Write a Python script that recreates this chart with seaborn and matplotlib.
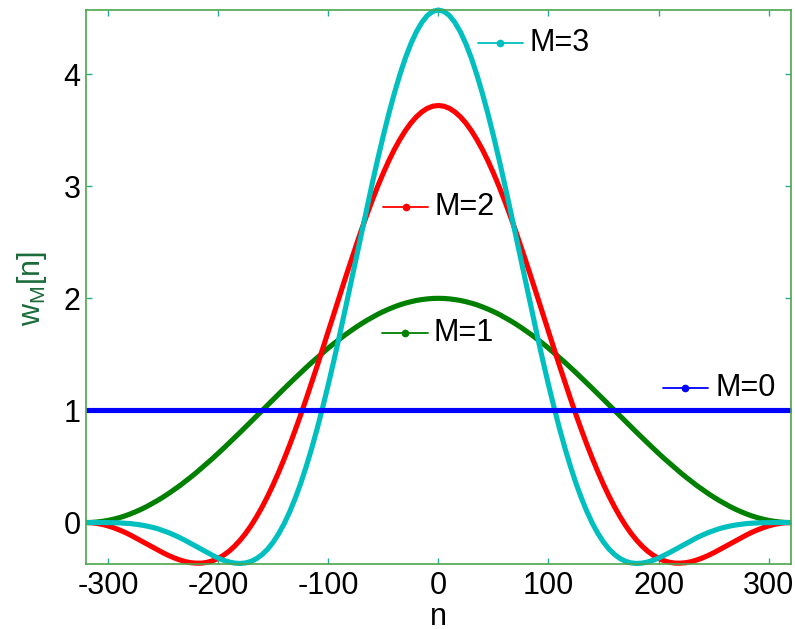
import matplotlib
matplotlib.use("Agg")
import matplotlib.pyplot as plt
import pandas as pd
import seaborn as sns

# Sample index of the window
n = list(range(-320, 321, 5))

# Window values w_M[n] for M = 0..3
w_m0 = [1.0] * len(n)
w_m1 = [0.000, 0.001, 0.005, 0.011, 0.019, 0.030, 0.043, 0.058, 0.076, 0.096,
        0.118, 0.142, 0.169, 0.197, 0.227, 0.259, 0.293, 0.328, 0.366, 0.404,
        0.444, 0.486, 0.529, 0.572, 0.617, 0.663, 0.710, 0.757, 0.805, 0.853,
        0.902, 0.951, 1.000, 1.049, 1.098, 1.147, 1.195, 1.243, 1.290, 1.337,
        1.383, 1.428, 1.471, 1.514, 1.556, 1.596, 1.634, 1.672, 1.707, 1.741,
        1.773, 1.803, 1.831, 1.858, 1.882, 1.904, 1.924, 1.942, 1.957, 1.970,
        1.981, 1.989, 1.995, 1.999, 2.000, 1.999, 1.995, 1.989, 1.981, 1.970,
        1.957, 1.942, 1.924, 1.904, 1.882, 1.858, 1.831, 1.803, 1.773, 1.741,
        1.707, 1.672, 1.634, 1.596, 1.556, 1.514, 1.471, 1.428, 1.383, 1.337,
        1.290, 1.243, 1.195, 1.147, 1.098, 1.049, 1.000, 0.951, 0.902, 0.853,
        0.805, 0.757, 0.710, 0.663, 0.617, 0.572, 0.529, 0.486, 0.444, 0.404,
        0.366, 0.328, 0.293, 0.259, 0.227, 0.197, 0.169, 0.142, 0.118, 0.096,
        0.076, 0.058, 0.043, 0.030, 0.019, 0.011, 0.005, 0.001, 0.000]
w_m2 = [0.000, -0.002, -0.008, -0.017, -0.030, -0.046, -0.065, -0.086, -0.110, -0.136,
        -0.163, -0.190, -0.217, -0.244, -0.270, -0.294, -0.315, -0.333, -0.348, -0.358,
        -0.362, -0.362, -0.355, -0.341, -0.320, -0.291, -0.255, -0.210, -0.157, -0.096,
        -0.026, 0.053, 0.140, 0.235, 0.339, 0.450, 0.568, 0.693, 0.825, 0.962,
        1.104, 1.250, 1.399, 1.551, 1.704, 1.858, 2.012, 2.165, 2.315, 2.462,
        2.606, 2.744, 2.876, 3.001, 3.118, 3.227, 3.327, 3.416, 3.495, 3.563,
        3.619, 3.663, 3.695, 3.714, 3.720, 3.714, 3.695, 3.663, 3.619, 3.563,
        3.495, 3.416, 3.327, 3.227, 3.118, 3.001, 2.876, 2.744, 2.606, 2.462,
        2.315, 2.165, 2.012, 1.858, 1.704, 1.551, 1.399, 1.250, 1.104, 0.962,
        0.825, 0.693, 0.568, 0.450, 0.339, 0.235, 0.140, 0.053, -0.026, -0.096,
        -0.157, -0.210, -0.255, -0.291, -0.320, -0.341, -0.355, -0.362, -0.362, -0.358,
        -0.348, -0.333, -0.315, -0.294, -0.270, -0.244, -0.217, -0.190, -0.163, -0.136,
        -0.110, -0.086, -0.065, -0.046, -0.030, -0.017, -0.008, -0.002, 0.000]
w_m3 = [0.000, 0.000, 0.000, 0.000, -0.001, -0.001, -0.003, -0.006, -0.009, -0.015,
        -0.022, -0.031, -0.042, -0.055, -0.072, -0.090, -0.111, -0.134, -0.159, -0.186,
        -0.213, -0.241, -0.268, -0.293, -0.317, -0.337, -0.352, -0.362, -0.365, -0.360,
        -0.346, -0.321, -0.285, -0.237, -0.175, -0.099, -0.009, 0.096, 0.216, 0.350,
        0.500, 0.663, 0.840, 1.030, 1.230, 1.440, 1.659, 1.883, 2.112, 2.343,
        2.574, 2.803, 3.027, 3.244, 3.451, 3.647, 3.828, 3.994, 4.142, 4.270,
        4.377, 4.461, 4.523, 4.560, 4.572, 4.560, 4.523, 4.461, 4.377, 4.270,
        4.142, 3.994, 3.828, 3.647, 3.451, 3.244, 3.027, 2.803, 2.574, 2.343,
        2.112, 1.883, 1.659, 1.440, 1.230, 1.030, 0.840, 0.663, 0.500, 0.350,
        0.216, 0.096, -0.009, -0.099, -0.175, -0.237, -0.285, -0.321, -0.346, -0.360,
        -0.365, -0.362, -0.352, -0.337, -0.317, -0.293, -0.268, -0.241, -0.213, -0.186,
        -0.159, -0.134, -0.111, -0.090, -0.072, -0.055, -0.042, -0.031, -0.022, -0.015,
        -0.009, -0.006, -0.003, -0.001, -0.001, 0.000, 0.000, 0.000, 0.000]

orders = [0, 1, 2, 3]
labels = ["M=0", "M=1", "M=2", "M=3"]
colors = {0: "#0000ff", 1: "#008000", 2: "#ff0000", 3: "#00bfbf"}
x_ticks = [-300, -200, -100, 0, 100, 200, 300]
y_ticks = [0, 1, 2, 3, 4]

df = pd.DataFrame({
    "n": n * 4,
    "w": w_m0 + w_m1 + w_m2 + w_m3,
    "M": [0] * len(n) + [1] * len(n) + [2] * len(n) + [3] * len(n),
})

sns.set_theme(style="white")
plt.rcParams["font.family"] = ["Liberation Sans", "DejaVu Sans"]
plt.rcParams["axes.unicode_minus"] = False
plt.rcParams["mathtext.default"] = "regular"

fig = plt.figure(figsize=(7.95, 6.29), dpi=100)
ax = fig.add_axes([0.1082, 0.1033, 0.8864, 0.8808])

sns.lineplot(data=df, x="n", y="w", hue="M", hue_order=[1, 2, 3, 0],
             palette=colors, legend=False, linewidth=3.7, ax=ax,
             clip_on=False, solid_capstyle="butt", solid_joinstyle="round")

ax.set_xlim(-320, 320)
ax.set_ylim(-0.37, 4.572)
ax.set_xticks(x_ticks)
ax.set_yticks(y_ticks)
ax.set_xticklabels([str(v) for v in x_ticks])
ax.set_yticklabels([str(v) for v in y_ticks])

spine_color = "#4ca64c"
for s in ax.spines.values():
    s.set_visible(True)
    s.set_color(spine_color)
    s.set_linewidth(1.2)

ax.tick_params(axis="both", which="major", direction="in", length=4, width=1,
               color="#2aaa9a", labelsize=22, labelcolor="black",
               top=True, right=True, bottom=True, left=True)
ax.tick_params(axis="x", pad=5)
ax.tick_params(axis="y", pad=4)

ax.set_xlabel("n", fontsize=22, color="black")
ax.xaxis.set_label_coords(0.5, -0.069)
ax.set_ylabel("w$_{M}$[n]", fontsize=22, color="#1a6b3a")
ax.yaxis.set_label_coords(-0.053, 0.497)

# Line-sample annotations naming each window order
annot = {
    3: (0.556, 0.620, 0.940, 0.630),
    2: (0.4215, 0.4853, 0.644, 0.495),
    1: (0.4196, 0.4849, 0.4164, 0.4924),
    0: (0.8184, 0.8827, 0.3182, 0.8926),
}
for m in orders:
    x0, x1, yy, xt = annot[m]
    ax.plot([x0, x1], [yy, yy], transform=ax.transAxes, color=colors[m],
            lw=1.3, clip_on=False)
    ax.plot([(x0 + x1) / 2], [yy], transform=ax.transAxes, color=colors[m],
            marker="o", ms=4.5, clip_on=False)
    ax.text(xt, yy, labels[m], transform=ax.transAxes, fontsize=22,
            color="black", va="center", ha="left")

fig.savefig("out.png", dpi=100, facecolor="white")
